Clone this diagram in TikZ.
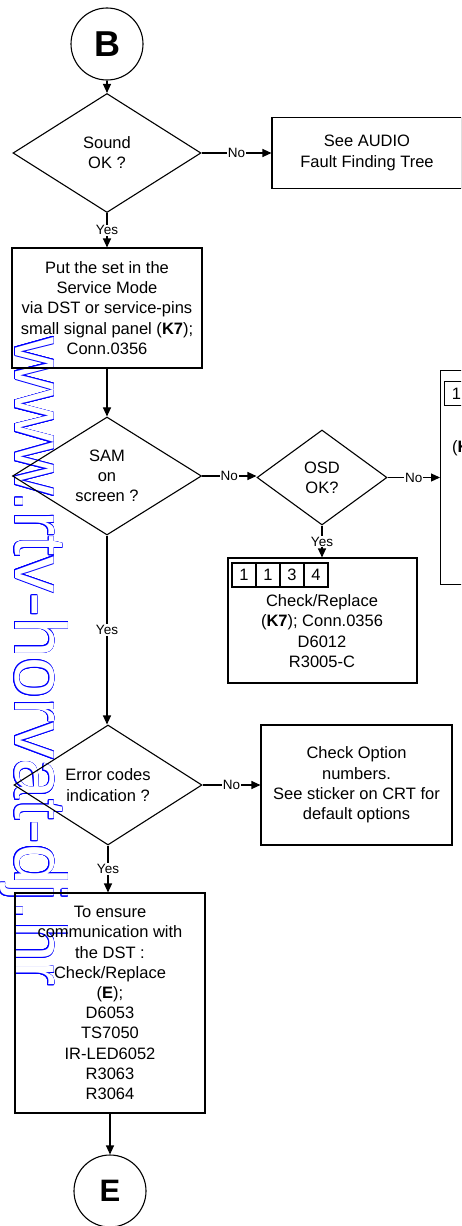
\documentclass[tikz,border=0pt]{standalone}
\usepackage{fontspec}
\setmainfont{Liberation Sans}
\usetikzlibrary{shapes.geometric,arrows.meta}
\tikzset{
  every node/.style={font=\fontsize{16.5}{20.2}\selectfont, align=center},
  arr/.style={line width=1.1pt, -{Triangle[length=9pt,width=8pt]}},
  dec/.style={diamond, draw, line width=1.1pt, inner sep=0pt, aspect=1.6},
  box/.style={rectangle, draw, line width=1.1pt, inner sep=0pt},
  cell/.style={rectangle, draw, line width=1.1pt, minimum width=24pt, minimum height=24pt, inner sep=0pt},
  term/.style={circle, draw, line width=1.1pt, minimum size=72pt, inner sep=0pt},
  lab/.style={fill=white, inner sep=1pt, font=\fontsize{13.5}{15}\selectfont},
  wm/.style={font=\fontsize{73}{80}\selectfont, inner sep=0pt, rotate=-90, anchor=base west},
}
\begin{document}
\begin{tikzpicture}[x=1pt, y=-1pt]
\useasboundingbox (0,0) rectangle (461,1226);
\clip (0,0) rectangle (461,1226);
\fill[white] (0,0) rectangle (461,1226);
% watermark (outlined blue text)
\foreach \a [count=\i] in {0,22.5,...,337.5} {
  \node[wm, text=blue, xshift={0.8pt*cos(\a)}, yshift={0.8pt*sin(\a)}] (wm\i) at (15,337) {www.rtv-horvat-dj.hr};
}
\node[wm, text=white] (wm) at (15,337) {www.rtv-horvat-dj.hr};
% nodes
\node[term] (B) at (107,44) {\fontsize{36}{40}\selectfont\bfseries B};
\node[dec, minimum width=188pt, minimum height=119pt] (d1) at (107,153) {Sound\\OK ?};
\node[box, minimum width=190pt, minimum height=71pt] (audio) at (367,153) {See AUDIO\\Fault Finding Tree};
\node[box, minimum width=190pt, minimum height=120pt] (sm) at (107,308) {Put the set in the\\Service Mode\\via DST or service-pins\\small signal panel (\textbf{K7});\\Conn.0356};
\node[dec, minimum width=189pt, minimum height=118pt] (d2) at (107,476) {SAM\\on\\screen ?};
\node[dec, minimum width=130pt, minimum height=95pt] (d3) at (322,477.5) {OSD\\OK?};
\node[box, minimum width=70pt, minimum height=214pt, anchor=north west] (rb) at (440,370) {};
\node[cell, anchor=north west] (rc1) at (444,381) {1};
\node[anchor=base west, inner sep=0pt] (rbt) at (452,452) {(\textbf{K7});};
\node[box, minimum width=189pt, minimum height=125pt] (chk) at (322.5,620.5) {};
\node[cell] (c1) at (244,575) {1};
\node[cell] (c2) at (268,575) {1};
\node[cell] (c3) at (292,575) {3};
\node[cell] (c4) at (316,575) {4};
\node (chkt) at (322,631) {Check/Replace\\(\textbf{K7}); Conn.0356\\D6012\\R3005-C};
\node[dec, minimum width=188pt, minimum height=120pt] (d4) at (108,785) {Error codes\\indication ?};
\node[box, minimum width=191pt, minimum height=120pt] (opt) at (356.5,785) {Check Option\\numbers.\\See sticker on CRT for\\default options};
\node[box, minimum width=190pt, minimum height=220pt] (dst) at (110,1003) {To ensure\\communication with\\the DST :\\Check/Replace\\(\textbf{E});\\D6053\\TS7050\\IR-LED6052\\R3063\\R3064};
\node[term] (E) at (110,1191) {\fontsize{31}{34}\selectfont\bfseries E};
% connectors
\draw[arr] (B) -- (d1);
\draw[arr] (d1.east) -- node[lab]{No} (d1.east -| audio.west);
\draw[arr] (d1.south) -- node[lab]{Yes} (d1.south |- sm.north);
\draw[arr] (sm) -- (d2);
\draw[arr] (d2.east) -- node[lab]{No} (d2.east -| d3.west);
\draw[arr] (d3.east) -- node[lab]{No} (d3.east -| rb.west);
\draw[arr] (d3.south) -- node[lab]{Yes} (d3.south |- chk.north);
\draw[arr] (d2.south) -- node[lab]{Yes} (d2.south |- d4.north);
\draw[arr] (d4.east) -- node[lab]{No} (d4.east -| opt.west);
\draw[arr] (d4.south) -- node[lab]{Yes} (d4.south |- dst.north);
\draw[arr] (dst.south) -- (dst.south |- E.north);
\end{tikzpicture}
\end{document}
